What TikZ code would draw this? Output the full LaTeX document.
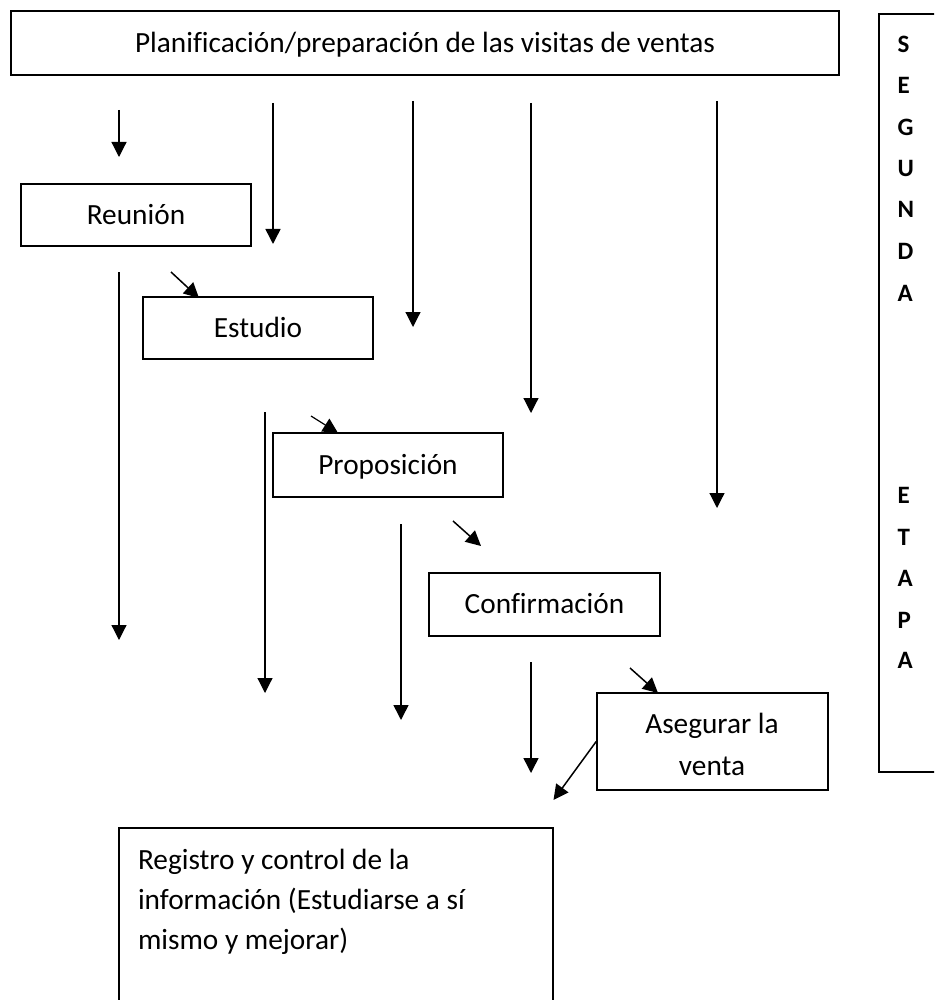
\documentclass[tikz,border=0pt]{standalone}
\usepackage{fontspec}
\setmainfont{Carlito}[Ligatures=NoCommon]
\usetikzlibrary{arrows.meta}
\tikzset{
  box/.style={draw, line width=1.6pt, inner sep=0pt,
    font=\fontsize{29.3}{40.5}\selectfont, text height=18.5pt, text depth=0pt},
  txt/.style={inner sep=0pt, font=\fontsize{29.3}{40.5}\selectfont},
  letter/.style={inner sep=0pt, font=\fontsize{25}{41.3}\selectfont\bfseries, anchor=base west},
  arr/.style={line width=1.5pt, -{Triangle[width=15pt,length=15pt]}},
  thinarr/.style={arr, line width=1.2pt}
}
\begin{document}
\begin{tikzpicture}[x=1pt,y=-1pt]
\useasboundingbox (0,0) rectangle (934,1000);
\begin{scope}
\clip (0,0) rectangle (934,1000);
% boxes
\node[box, minimum width=828pt, minimum height=64pt] (plan) at (425,43) {Planificación/preparación de las visitas de ventas};
\node[box, minimum width=230pt, minimum height=62pt] (reunion) at (136,215) {Reunión};
\node[box, minimum width=230pt, minimum height=62pt] (estudio) at (258,328) {Estudio};
\node[box, minimum width=230pt, minimum height=64pt] (propo) at (388,465) {Proposición};
\node[box, minimum width=231pt, minimum height=63pt] (confir) at (544.5,604.5) {Confirmación};
\node[box, minimum width=231pt, minimum height=97pt] (aseg) at (712.5,741.5) {};
\node[txt, anchor=base] (aseg1) at (712,733) {Asegurar la};
\node[txt, anchor=base] (aseg2) at (712,775) {venta};
\node[box, minimum width=434pt, minimum height=190pt] (registro) at (336,923) {};
\node[txt, anchor=base west] (reg1) at (137.8,869) {Registro y control de la};
\node[txt, anchor=base west] (reg2) at (137.8,909.3) {información (Estudiarse a sí};
\node[txt, anchor=base west] (reg3) at (137.8,949.5) {mismo y mejorar)};
\node[box, minimum width=80pt, minimum height=758pt] (etapa) at (919,393) {};
% vertical letters
\foreach \ch/\yy [count=\i] in {S/52.8, E/94, G/135.5, U/176.6, N/218, D/259.5, A/301,
                                E/503.3, T/545, A/586.7, P/628, A/668}
  \node[letter] (l\i) at (897.5,\yy) {\ch};
% arrow coordinates
\coordinate (s1) at (119,110);   \coordinate (e1) at (119,157);
\coordinate (s2) at (273,103);   \coordinate (e2) at (273,244);
\coordinate (s3) at (413,101);   \coordinate (e3) at (413,327);
\coordinate (s4) at (531,103);   \coordinate (e4) at (531,413);
\coordinate (s5) at (717,101);   \coordinate (e5) at (717,508);
\coordinate (s6) at (119,272);   \coordinate (e6) at (119,640);
\coordinate (s7) at (171,272);   \coordinate (e7) at (199,298);
\coordinate (s8) at (265,412);   \coordinate (e8) at (265,693);
\coordinate (s9) at (311,416);   \coordinate (e9) at (338,433);
\coordinate (s10) at (401,524);  \coordinate (e10) at (401,720);
\coordinate (s11) at (453,521);  \coordinate (e11) at (481,546);
\coordinate (s12) at (531,662);  \coordinate (e12) at (531,773);
\coordinate (s13) at (630,668);  \coordinate (e13) at (658,693);
\coordinate (e14) at (553.5,800);
% arrows
\draw[thinarr] (s1) -- (e1);
\draw[arr] (s2) -- (e2);
\draw[thinarr] (s3) -- (e3);
\draw[thinarr] (s4) -- (e4);
\draw[thinarr] (s5) -- (e5);
\draw[thinarr] (s6) -- (e6);
\draw[arr] (s7) -- (e7);
\draw[thinarr] (s8) -- (e8);
\draw[thinarr] (s9) -- (e9);
\draw[arr] (s10) -- (e10);
\draw[arr] (s11) -- (e11);
\draw[arr] (s12) -- (e12);
\draw[arr] (s13) -- (e13);
\draw[arr] (aseg.west) -- (e14);
\end{scope}
\end{tikzpicture}
\end{document}
